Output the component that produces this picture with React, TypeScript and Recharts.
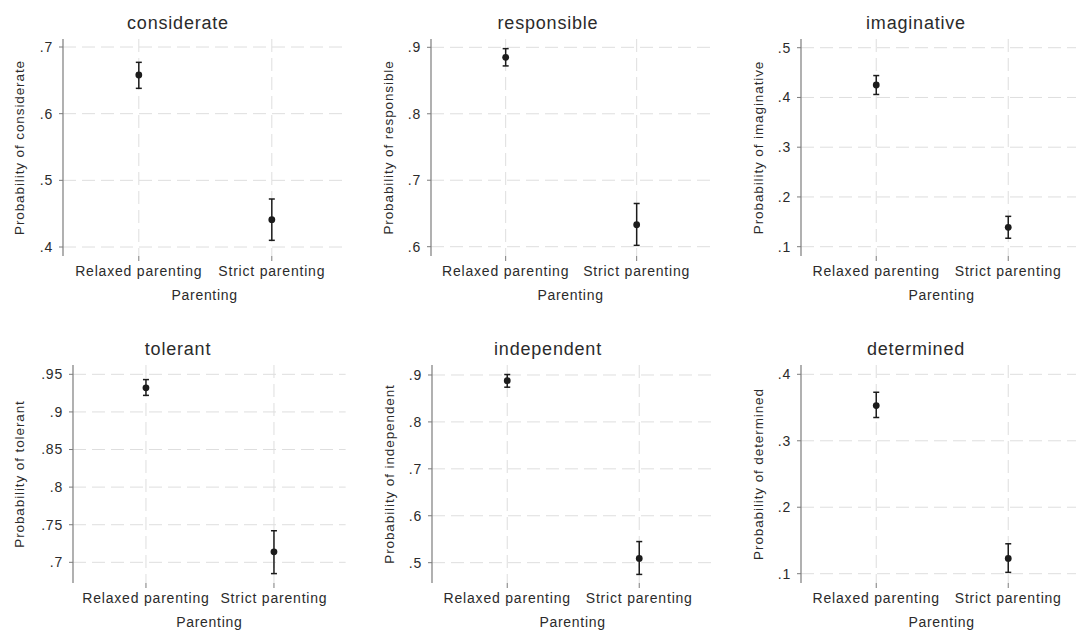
import React from 'react';
import { ScatterChart, Scatter, XAxis, YAxis, CartesianGrid, ErrorBar, Label } from 'recharts';

// Predicted probabilities with 95% confidence limits, by parenting style
const parentingLevels = ['Relaxed parenting', 'Strict parenting'];
const traits = ['considerate', 'responsible', 'imaginative', 'tolerant', 'independent', 'determined'];

const marginRelaxed = [0.658, 0.885, 0.425, 0.932, 0.888, 0.353];
const lowRelaxed = [0.638, 0.872, 0.406, 0.922, 0.874, 0.335];
const highRelaxed = [0.677, 0.898, 0.444, 0.943, 0.901, 0.373];

const marginStrict = [0.441, 0.633, 0.139, 0.714, 0.509, 0.123];
const lowStrict = [0.410, 0.602, 0.117, 0.685, 0.475, 0.102];
const highStrict = [0.472, 0.665, 0.161, 0.742, 0.545, 0.145];

const categoryTicks = [1, 2];
const yTicks = [
  [0.4, 0.5, 0.6, 0.7],
  [0.6, 0.7, 0.8, 0.9],
  [0.1, 0.2, 0.3, 0.4, 0.5],
  [0.7, 0.75, 0.8, 0.85, 0.9, 0.95],
  [0.5, 0.6, 0.7, 0.8, 0.9],
  [0.1, 0.2, 0.3, 0.4],
];
const yDomains: [number, number][] = [
  [0.3865, 0.712],
  [0.586, 0.9125],
  [0.0813, 0.5175],
  [0.6725, 0.9624],
  [0.4567, 0.9213],
  [0.086, 0.414],
];

// Page placement of each panel
const FONT = '"Liberation Sans", Arial, Helvetica, sans-serif';
const TEXT = '#2b2b2b';
const AXIS = '#7c7c7c';
const GRID = '#dedede';
const MARK = '#1c1c1c';
const X_DOMAIN: [number, number] = [0.43, 2.56];

type Frame = {
  left: number; top: number; width: number; height: number;
  axisX: number; gap: number; plotTop: number; plotBottom: number;
  titleX: number; titleBaseline: number; labelOffset: number;
};

const frames: Frame[] = [
  { left: 0, top: 0, width: 358, height: 310, axisX: 63, gap: 133, plotTop: 39, plotBottom: 256, titleX: 178, titleBaseline: 29, labelOffset: 39.5 },
  { left: 358, top: 0, width: 358, height: 310, axisX: 431, gap: 131, plotTop: 39, plotBottom: 256, titleX: 548, titleBaseline: 29, labelOffset: 38 },
  { left: 716, top: 0, width: 372, height: 310, axisX: 801, gap: 132, plotTop: 39, plotBottom: 256, titleX: 916, titleBaseline: 29, labelOffset: 38 },
  { left: 0, top: 310, width: 358, height: 320, axisX: 73, gap: 128, plotTop: 365, plotBottom: 583, titleX: 178, titleBaseline: 355, labelOffset: 49.5 },
  { left: 358, top: 310, width: 358, height: 320, axisX: 432, gap: 132, plotTop: 365, plotBottom: 583, titleX: 548, titleBaseline: 355, labelOffset: 38.5 },
  { left: 716, top: 310, width: 372, height: 320, axisX: 801, gap: 132, plotTop: 365, plotBottom: 583, titleX: 916, titleBaseline: 355, labelOffset: 38 },
];

const fmtProb = (v: number) => String(Number(v.toFixed(2))).replace(/^0/, '');

// Resolve an axis scale to a plain value -> pixel function when available
const toMapper = (axis: any): ((v: number) => number) | null => {
  const sc = axis && axis.scale;
  if (typeof sc === 'function') return (v: number) => sc(v);
  if (sc && typeof sc.map === 'function') return (v: number) => sc.map(v);
  return null;
};

function Panel({ idx }: { idx: number }) {
  const f = frames[idx];
  const trait = traits[idx];
  const rows = parentingLevels.map((name, i) => {
    const est = i === 0 ? marginRelaxed[idx] : marginStrict[idx];
    const lo = i === 0 ? lowRelaxed[idx] : lowStrict[idx];
    const hi = i === 0 ? highRelaxed[idx] : highStrict[idx];
    return { x: i + 1, name, y: est, err: [est - lo, hi - est] };
  });

  const plotWidth = (X_DOMAIN[1] - X_DOMAIN[0]) * f.gap;
  const yAxisWidth = f.axisX - f.left;
  const marginTop = f.plotTop - f.top;
  const plotHeight = f.plotBottom - f.plotTop;
  const marginRight = f.width - yAxisWidth - plotWidth;
  const xAxisHeight = f.height - marginTop - plotHeight;
  const [d0, d1] = yDomains[idx];

  const yPixel = (t: number) => marginTop + ((d1 - t) / (d1 - d0)) * plotHeight;
  const xPixel = (t: number) => yAxisWidth + ((t - X_DOMAIN[0]) / (X_DOMAIN[1] - X_DOMAIN[0])) * plotWidth;

  const tickStyle = { fill: TEXT, fontSize: 14, fontFamily: FONT, letterSpacing: 0.8 };

  return (
    <div style={{ position: 'absolute', left: f.left, top: f.top, width: f.width, height: f.height }}>
      <ScatterChart
        width={f.width}
        height={f.height}
        margin={{ top: marginTop, right: marginRight, bottom: 0, left: 0 }}
      >
        <CartesianGrid
          stroke={GRID}
          strokeDasharray="13 6"
          strokeWidth={1}
          horizontalCoordinatesGenerator={(props: any) => {
            const m = toMapper(props && props.yAxis);
            return yTicks[idx].map((t) => (m ? m(t) : yPixel(t)));
          }}
          verticalCoordinatesGenerator={(props: any) => {
            const m = toMapper(props && props.xAxis);
            return categoryTicks.map((t) => (m ? m(t) : xPixel(t)));
          }}
        />
        <XAxis
          type="number"
          dataKey="x"
          domain={X_DOMAIN}
          allowDataOverflow
          ticks={categoryTicks}
          interval={0}
          tickFormatter={(v: number) => parentingLevels[v - 1]}
          axisLine={false}
          tickLine={{ stroke: AXIS }}
          tickSize={5}
          tickMargin={5}
          height={xAxisHeight}
          tick={tickStyle}
        >
          <Label
            content={() => (
              <text
                x={yAxisWidth + plotWidth / 2}
                y={marginTop + plotHeight + 44}
                textAnchor="middle"
                fill={TEXT}
                fontSize={14}
                fontFamily={FONT}
                letterSpacing={0.7}
              >
                Parenting
              </text>
            )}
          />
        </XAxis>
        <YAxis
          type="number"
          dataKey="y"
          domain={yDomains[idx]}
          allowDataOverflow
          ticks={yTicks[idx]}
          interval={0}
          tickFormatter={fmtProb}
          width={yAxisWidth}
          axisLine={{ stroke: AXIS, strokeWidth: 1.2 }}
          tickLine={{ stroke: AXIS }}
          tickSize={4}
          tickMargin={6}
          tick={tickStyle}
        >
          <Label
            content={() => {
              const x = yAxisWidth - f.labelOffset;
              const y = marginTop + plotHeight / 2;
              return (
                <text
                  x={x}
                  y={y}
                  transform={`rotate(-90, ${x}, ${y})`}
                  textAnchor="middle"
                  fill={TEXT}
                  fontSize={13.5}
                  fontFamily={FONT}
                  letterSpacing={0.9}
                >
                  {`Probability of ${trait}`}
                </text>
              );
            }}
          />
        </YAxis>
        <Scatter
          data={rows}
          isAnimationActive={false}
          shape={(p: any) => <circle cx={p.cx} cy={p.cy} r={3.4} fill={MARK} />}
        >
          <ErrorBar dataKey="err" direction="y" width={3} stroke={MARK} strokeWidth={1.5} />
        </Scatter>
      </ScatterChart>
      <div
        style={{
          position: 'absolute',
          left: f.titleX - f.left - 150,
          top: f.titleBaseline - f.top - 15.24,
          width: 300,
          textAlign: 'center',
          fontFamily: FONT,
          fontSize: 18,
          lineHeight: '18px',
          letterSpacing: 0.8,
          color: TEXT,
          whiteSpace: 'nowrap',
        }}
      >
        {trait}
      </div>
    </div>
  );
}

export default function App() {
  return (
    <div
      style={{
        position: 'absolute',
        left: 0,
        top: 0,
        width: 1076,
        height: 630,
        overflow: 'hidden',
        background: '#ffffff',
      }}
    >
      {traits.map((t, i) => (
        <Panel key={t} idx={i} />
      ))}
    </div>
  );
}
